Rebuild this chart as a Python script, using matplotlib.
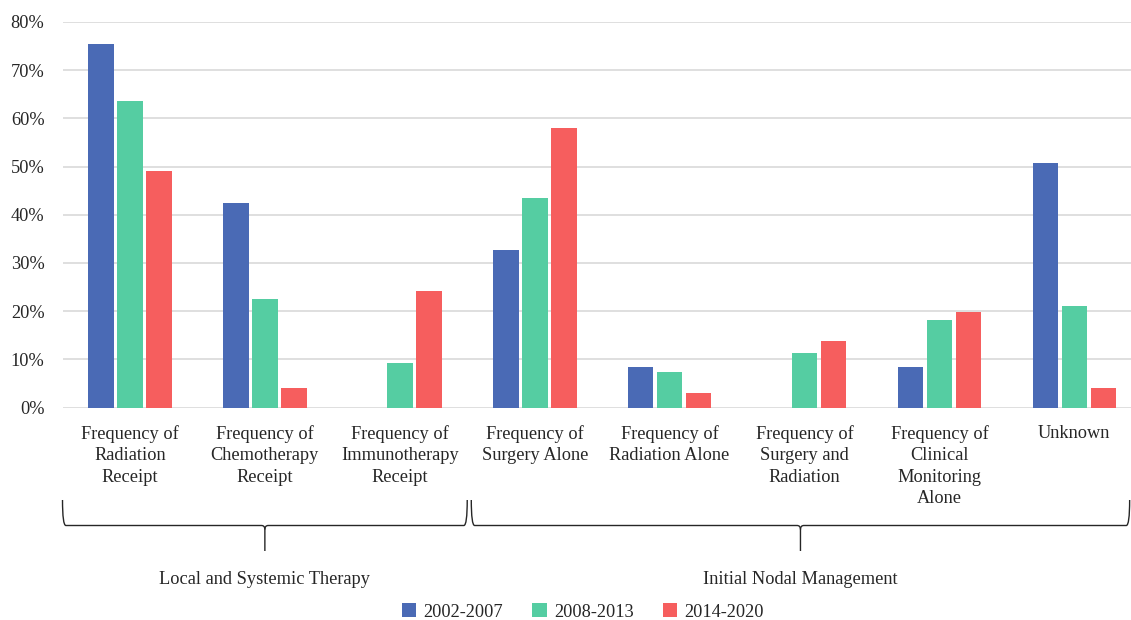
import matplotlib
matplotlib.use("Agg")
import matplotlib.pyplot as plt
from matplotlib.patches import Patch, PathPatch
from matplotlib.path import Path
from matplotlib.transforms import blended_transform_factory
import numpy as np

plt.rcParams['font.family'] = ['Liberation Serif', 'DejaVu Serif']

categories = [
    "Frequency of\nRadiation\nReceipt",
    "Frequency of\nChemotherapy\nReceipt",
    "Frequency of\nImmunotherapy\nReceipt",
    "Frequency of\nSurgery Alone",
    "Frequency of\nRadiation Alone",
    "Frequency of\nSurgery and\nRadiation",
    "Frequency of\nClinical\nMonitoring\nAlone",
    "Unknown",
]
series_names = ["2002-2007", "2008-2013", "2014-2020"]
vals_2002_2007 = [75.5, 42.5, 0.0, 32.6, 8.4, 0.0, 8.4, 50.7]
vals_2008_2013 = [63.6, 22.5, 9.3, 43.4, 7.3, 11.3, 18.1, 21.0]
vals_2014_2020 = [49.1, 4.1, 24.2, 57.9, 3.0, 13.8, 19.8, 4.0]
yticks = [0, 10, 20, 30, 40, 50, 60, 70, 80]
groups = [("Local and Systemic Therapy", -0.5, 2.5),
          ("Initial Nodal Management", 2.53, 7.41)]

colors = ["#4A6AB5", "#55CDA2", "#F65E5E"]
W, H = 1131, 620
fig = plt.figure(figsize=(W / 100, H / 100), dpi=100)
ax = fig.add_axes([62.5 / W, 1 - 407.5 / H, 1 - 62.5 / W, (407.5 - 22) / H])

x = np.arange(len(categories))
step, width = 0.215, 0.19
for i, (vals, name) in enumerate(zip([vals_2002_2007, vals_2008_2013, vals_2014_2020], series_names)):
    ax.bar(x + (i - 1) * step, vals, width=width, color=colors[i], label=name, zorder=3)

ax.set_ylim(0, 80)
ax.set_xlim(-0.5, 7.42)
ax.set_yticks(yticks)
ax.set_yticklabels([f"{t}%" for t in yticks])
ax.yaxis.grid(True, color="#d9d9d9", linewidth=1.2, zorder=0)
ax.set_axisbelow(True)
for s in ax.spines.values():
    s.set_visible(False)
ax.set_xticks(x)
ax.set_xticklabels(categories, fontsize=13.2, linespacing=1.34)
ax.tick_params(axis='x', length=0, pad=12.5)
ax.tick_params(axis='y', length=0, pad=13, labelsize=13.2)
for lbl in ax.get_yticklabels():
    lbl.set_color("#262626")
for lbl in ax.get_xticklabels():
    lbl.set_color("#262626")

# group braces below the category labels
tr = blended_transform_factory(ax.transData, fig.transFigure)
def fy(py):
    return 1 - py / H

top_y, bar_y, tip_y = 500, 525.5, 551
dx = 0.025
for label, x0, x1 in groups:
    xc = (x0 + x1) / 2
    verts_l = [(x0, fy(top_y)), (x0, fy(bar_y)), (x0 + dx, fy(bar_y)),
               (xc - dx, fy(bar_y)), (xc, fy(bar_y)), (xc, fy(bar_y + 4)),
               (xc, fy(tip_y))]
    codes_l = [Path.MOVETO, Path.CURVE3, Path.CURVE3, Path.LINETO,
               Path.CURVE3, Path.CURVE3, Path.LINETO]
    verts_r = [(xc, fy(bar_y + 4)), (xc, fy(bar_y)), (xc + dx, fy(bar_y)),
               (x1 - dx, fy(bar_y)), (x1, fy(bar_y)), (x1, fy(top_y))]
    codes_r = [Path.MOVETO, Path.CURVE3, Path.CURVE3, Path.LINETO,
               Path.CURVE3, Path.CURVE3]
    for v, c in [(verts_l, codes_l), (verts_r, codes_r)]:
        pp = PathPatch(Path(v, c), facecolor='none', edgecolor="#262626",
                       linewidth=1.0, transform=tr, clip_on=False)
        fig.add_artist(pp)
    fig.text(ax.transData.transform((xc, 0))[0] / W, fy(579), label,
             ha='center', va='center', fontsize=13.2, color="#262626")

handles = [Patch(facecolor=c, edgecolor='none') for c in colors]
fig.legend(handles, series_names, loc='center', bbox_to_anchor=(583 / W, fy(612)),
           ncol=3, frameon=False, fontsize=13.2, handlelength=0.78, handleheight=0.78,
           handletextpad=0.4, columnspacing=1.6, labelcolor="#262626")

fig.savefig("out.png", dpi=100)
